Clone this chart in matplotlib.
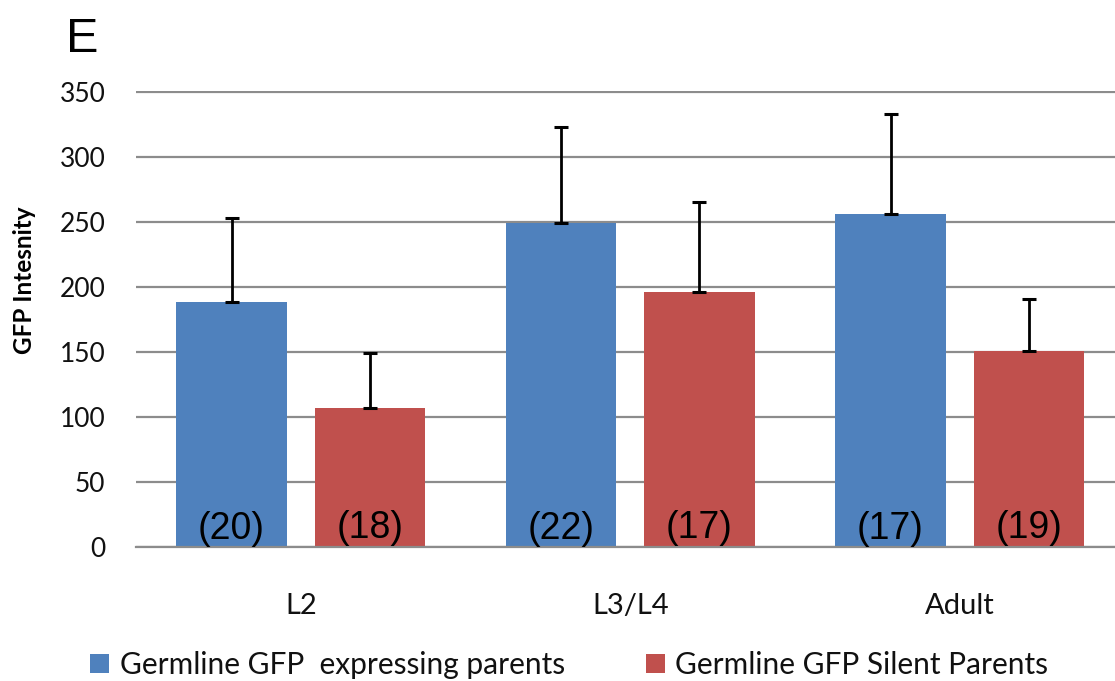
import numpy as np
import matplotlib
matplotlib.use("Agg")
import matplotlib.pyplot as plt

stages = ["L2", "L3/L4", "Adult"]
expressing = [188, 249, 256]
expressing_err = [65, 74, 77]
silent = [107, 196, 151]
silent_err = [42, 69, 40]
expressing_n = ["(20)", "(22)", "(17)"]
silent_n = ["(18)", "(17)", "(19)"]

blue = "#4F81BD"
red = "#C0504D"

plt.rcParams["font.family"] = ["Lato", "DejaVu Sans"]

fig = plt.figure(figsize=(11.15, 6.81), dpi=100)
ax = fig.add_axes([136/1115, (681-546.7)/681, (1124.5-136)/1115, (546.7-90.7)/681])

x = np.arange(len(stages))
off = 0.21
w = 0.335
ax.bar(x - off, expressing, w, color=blue, label="Germline GFP  expressing parents", zorder=2)
ax.bar(x + off, silent, w, color=red, label="Germline GFP Silent Parents", zorder=2)
ax.errorbar(x - off, expressing, yerr=[np.zeros(3), expressing_err], fmt="none",
            ecolor="black", elinewidth=2, capsize=5, capthick=2.2, zorder=3)
ax.errorbar(x + off, silent, yerr=[np.zeros(3), silent_err], fmt="none",
            ecolor="black", elinewidth=2, capsize=5, capthick=2.2, zorder=3)

# sample sizes at the bottom of each bar
for i in range(len(stages)):
    ax.text(x[i] - off, 6, expressing_n[i], ha="center", va="baseline",
            fontsize=27, family="Liberation Sans", color="black", zorder=4)
    ax.text(x[i] + off, 7, silent_n[i], ha="center", va="baseline",
            fontsize=27, family="Liberation Sans", color="black", zorder=4)

ax.set_xlim(-0.5, 2.5)
ax.set_ylim(0, 351)
ax.set_yticks(range(0, 351, 50))
ax.set_xticks(x)
ax.set_xticklabels(stages)
ax.yaxis.grid(True, color="#8c8c8c", linewidth=1.6, zorder=0)
ax.set_axisbelow(True)
for s in ["top", "right", "left"]:
    ax.spines[s].set_visible(False)
ax.spines["bottom"].set_color("#8c8c8c")
ax.spines["bottom"].set_linewidth(1.6)
ax.tick_params(axis="y", length=0, pad=22, labelsize=19, labelcolor="#111111")
ax.tick_params(axis="x", length=0, pad=33, labelsize=21, labelcolor="#111111")

fig.text(25/1115, (681-280)/681, "GFP Intesnity", rotation=90, ha="center", va="center",
         fontsize=17.5, fontweight="bold", color="black")
fig.text(66/1115, (681-52)/681, "E", fontsize=35, family="Liberation Sans",
         ha="left", va="baseline", color="black")

fig.legend(loc="center left", bbox_to_anchor=(90/1115, 16/681), ncol=2, frameon=False,
           fontsize=21.5, handlelength=0.65, handleheight=0.65, handletextpad=0.35,
           columnspacing=2.7, borderpad=0, borderaxespad=0, labelcolor="#111111")

fig.savefig("out.png", dpi=100)
